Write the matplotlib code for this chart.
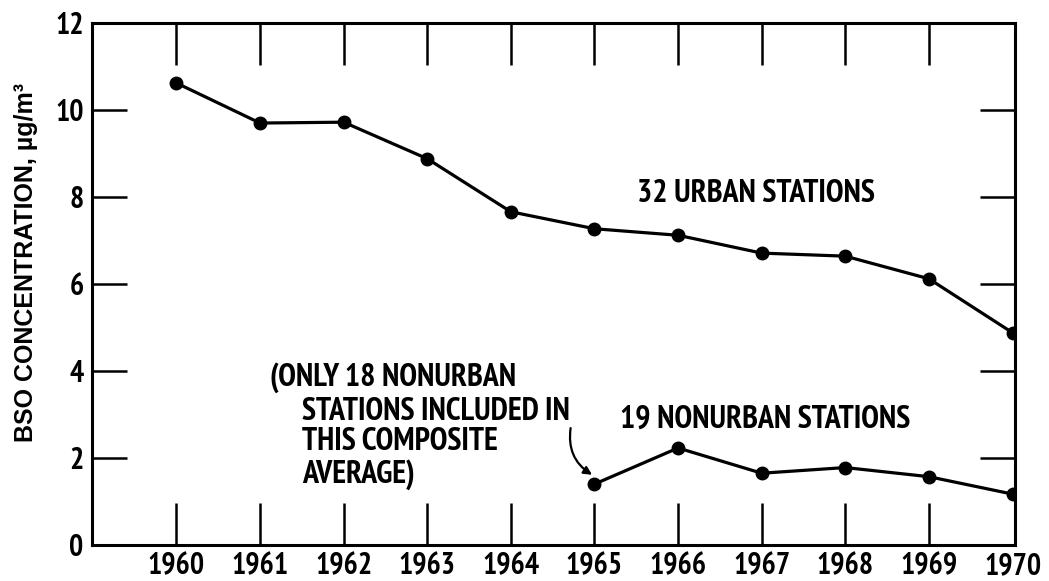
import numpy as np
import matplotlib
matplotlib.use("Agg")
import matplotlib.pyplot as plt

# data
years = [1960, 1961, 1962, 1963, 1964, 1965, 1966, 1967, 1968, 1969, 1970]
urban = [10.62, 9.70, 9.72, 8.88, 7.66, 7.27, 7.12, 6.71, 6.64, 6.12, 4.88]
nonurban_years = [1965, 1966, 1967, 1968, 1969, 1970]
nonurban = [1.40, 2.23, 1.65, 1.78, 1.57, 1.17]
yticks = [0, 2, 4, 6, 8, 10, 12]

FONT = ["PT Sans Narrow", "IBM Plex Sans Condensed", "DejaVu Sans"]

fig = plt.figure(figsize=(10.49, 5.81), dpi=100)
ax = fig.add_axes([0.0877, 0.062, 0.8799, 0.8984])

ax.plot(years, urban, color="black", lw=2.3, marker="o", ms=9, zorder=3)
ax.plot(nonurban_years, nonurban, color="black", lw=2.3, marker="o", ms=9, zorder=3)

ax.set_xlim(1958.99, 1970.03)
ax.set_ylim(0, 12)

for s in ax.spines.values():
    s.set_linewidth(2.2)

ax.set_xticks(years)
ax.set_xticklabels([str(y) for y in years])
ax.set_yticks(yticks)
ax.tick_params(axis="x", which="major", direction="in", length=30, width=1.8,
               top=True, bottom=True, pad=5)
ax.tick_params(axis="y", which="major", direction="in", length=25, width=1.8,
               left=True, right=True, pad=6)
for lab in ax.get_xticklabels() + ax.get_yticklabels():
    lab.set_fontfamily(FONT)
    lab.set_fontweight("bold")
    lab.set_fontsize(21.5)

# hide ticks sitting on the frame
for t in ax.xaxis.get_major_ticks():
    if t.get_loc() == 1970:
        t.tick1line.set_visible(False)
        t.tick2line.set_visible(False)
for t in ax.yaxis.get_major_ticks():
    if t.get_loc() in (0, 12):
        t.tick1line.set_visible(False)
        t.tick2line.set_visible(False)

ax.set_ylabel("BSO CONCENTRATION, \u00b5g/m\u00b3",
              fontfamily=["Liberation Sans", "DejaVu Sans"],
              fontweight="bold", fontsize=18)
ax.yaxis.set_label_coords(-0.058, 0.542)

ax.text(1965.51, 8.08, "32 URBAN STATIONS", fontfamily=FONT, fontweight="bold",
        fontsize=23, ha="left", va="center")
ax.text(1965.30, 2.89, "19 NONURBAN STATIONS", fontfamily=FONT, fontweight="bold",
        fontsize=23, ha="left", va="center")

note = ["(ONLY 18 NONURBAN", "STATIONS INCLUDED IN", "THIS COMPOSITE", "AVERAGE)"]
note_x = [1961.12, 1961.50, 1961.50, 1961.50]
note_y = [3.84, 3.06, 2.36, 1.62]
for txt, nx, ny in zip(note, note_x, note_y):
    ax.text(nx, ny, txt, fontfamily=FONT, fontweight="bold", fontsize=23,
            ha="left", va="center")

ax.annotate("", xy=(1965.0, 1.58), xytext=(1964.72, 2.75),
            arrowprops=dict(arrowstyle="-|>", color="black", lw=1.6,
                            mutation_scale=12,
                            connectionstyle="arc3,rad=0.35"))

fig.savefig("out.png", dpi=100)
